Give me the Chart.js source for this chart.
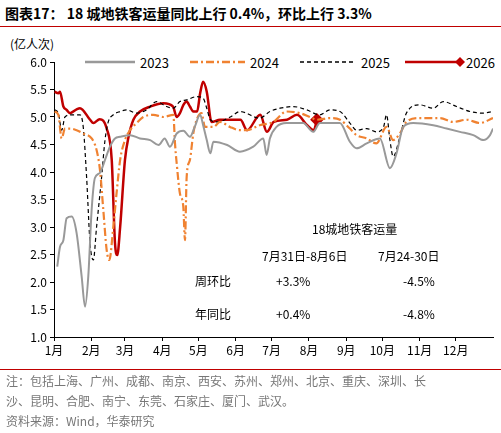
<!DOCTYPE html>
<html>
<head>
<meta charset="utf-8">
<script src="https://cdn.jsdelivr.net/npm/chart.js@4/dist/chart.umd.min.js"></script>
<style>
body { margin: 0; width: 501px; height: 433px; background: #fff; font-family: "Noto Sans CJK SC", "Noto Sans", sans-serif; position: relative; overflow: hidden; }
#wrap { position: absolute; left: 0; top: 0; width: 501px; height: 433px; }
.t { position: absolute; white-space: nowrap; color: #000; }
.note { position: absolute; left: 6px; font-size: 12px; color: #777; white-space: nowrap; }
.lg { position: absolute; top: 53px; font-size: 13px; }
</style>
</head>
<body>
<div class="t" style="left:5px;top:3px;font-size:14px;font-weight:bold;">图表17：&nbsp;18 城地铁客运量同比上行 0.4%，环比上行 3.3%</div>
<div style="position:absolute;left:0;top:26px;width:501px;height:1px;background:#c00000;"></div>
<div class="t" style="left:10px;top:35px;font-size:12px;">(亿人次)</div>

<svg style="position:absolute;left:0;top:0" width="501" height="80">
  <line x1="85" y1="62" x2="135" y2="62" stroke="#999" stroke-width="2.5"/>
  <line x1="190" y1="62" x2="245" y2="62" stroke="#F08231" stroke-width="2.5" stroke-dasharray="8,3,2,3"/>
  <line x1="300" y1="62" x2="355" y2="62" stroke="#000" stroke-width="1.3" stroke-dasharray="4,3"/>
  <line x1="405" y1="62" x2="460" y2="62" stroke="#C00000" stroke-width="2.5"/>
  <polygon points="460,57 465,62 460,67 455,62" fill="#C00000"/>
</svg>
<div class="lg" style="left:140px">2023</div>
<div class="lg" style="left:250px">2024</div>
<div class="lg" style="left:361px">2025</div>
<div class="lg" style="left:466px">2026</div>

<div id="wrap"><canvas id="c" width="501" height="433"></canvas></div>

<div class="t" style="left:312px;top:220px;font-size:12px;">18城地铁客运量</div>
<div class="t" style="left:262px;top:247px;font-size:12px;">7月31日-8月6日</div>
<div class="t" style="left:378px;top:247px;font-size:12px;">7月24-30日</div>
<div class="t" style="left:195px;top:272px;font-size:12px;">周环比</div>
<div class="t" style="left:276px;top:272px;font-size:12px;">+3.3%</div>
<div class="t" style="left:403px;top:272px;font-size:12px;">-4.5%</div>
<div class="t" style="left:195px;top:305px;font-size:12px;">年同比</div>
<div class="t" style="left:276px;top:305px;font-size:12px;">+0.4%</div>
<div class="t" style="left:403px;top:305px;font-size:12px;">-4.8%</div>

<div style="position:absolute;left:0;top:369px;width:501px;height:1px;background:#c00000;"></div>
<div class="note" style="top:372px">注：包括上海、广州、成都、南京、西安、苏州、郑州、北京、重庆、深圳、长</div>
<div class="note" style="top:392px">沙、昆明、合肥、南宁、东莞、石家庄、厦门、武汉。</div>
<div class="note" style="top:412px">资料来源：Wind，华泰研究</div>

<script>
const monthDays = [0, 31, 59, 90, 120, 151, 181, 212, 243, 273, 304, 334];
const monthLabels = ['1月','2月','3月','4月','5月','6月','7月','8月','9月','10月','11月','12月'];

const days2023 = [2.7,5,7.8,10.5,14.7,18.8,23,25.8,28.5,31.3,34,38,42.4,46.5,50.7,55,63.2,71.5,80,87,92,96.4,102,107.6,113,117,121.5,124,127,130,132.5,144,154.6,165.7,174,176.8,179.5,185,193.4,207.2,215.5,221,237.7,246,251.6,260,271,279.3,284.8,290.4,298.7,315.3,326.4,337.5,348.6,357,362.5,365];
const vals2023 = [2.28,2.64,2.76,3.16,3.19,2.89,2.1,1.55,2.1,3.31,3.89,3.98,4.22,4.46,4.61,4.64,4.67,4.61,4.58,4.49,4.61,4.46,4.70,4.75,4.64,4.82,5.04,4.85,4.58,4.34,4.55,4.49,4.37,4.46,4.61,4.31,4.61,4.82,4.89,4.89,4.73,4.89,4.89,4.55,4.43,4.52,4.61,4.07,4.34,4.82,4.89,4.85,4.79,4.73,4.67,4.58,4.67,4.79];

const days2024 = [0.5,3.6,6.4,9.1,13.3,18.8,24.3,31.3,35.4,38.2,41,43.8,46,49.3,52,55,59,63.2,68.7,74.2,82.6,91,99.2,100.6,102,104.7,107.5,108.9,110.3,113,115.8,118.6,122.7,125.5,132.5,138,146.3,154.6,160,171,182.3,193.4,204.5,212.8,218.4,229.5,237.8,246,251.6,260,268,276.5,282,287.6,293,304.3,320.9,332,343,354,365];
const vals2024 = [5.1,5.04,4.61,4.79,4.79,4.76,4.70,4.61,4.4,4.04,3.31,2.58,2.4,3.0,3.61,4.22,4.58,4.76,4.89,5.0,5.04,5.0,5.04,4.52,4.16,3.61,3.37,2.76,3.91,4.22,4.7,4.95,5.07,4.82,4.82,4.91,4.82,4.76,4.76,4.85,4.91,5.1,5.07,5.0,4.95,4.98,4.95,4.79,4.67,4.61,4.52,4.82,4.58,4.70,4.91,4.98,4.98,4.91,4.95,4.89,4.98];

const days2025 = [0.5,3.6,6.4,9.1,14.7,21.6,24.3,27.1,30,32.7,35.4,39.6,42.4,45.1,49.3,55,60.4,68.7,77,85.3,93.6,99.2,104.7,110.3,118.6,124,127,130,135.5,146.6,154.6,171,179.5,188,199,210,221,229.5,237.8,246,251.6,260,268,274,276.5,279.3,282,287.6,293,304.3,315.3,323.6,334.7,345.8,356.9,365];
const vals2025 = [5.13,5.07,4.76,5.0,5.04,5.04,4.82,3.91,2.70,2.4,3.0,3.91,4.58,4.91,5.04,5.1,5.13,5.07,5.13,5.28,5.19,5.16,5.28,5.31,5.37,5.34,5.16,4.95,4.91,5.0,5.1,4.98,5.1,5.16,5.19,5.13,5.04,5.13,5.1,4.89,4.76,4.79,4.73,4.82,5.04,4.58,4.28,4.64,5.07,5.22,5.16,5.28,5.19,5.1,5.07,5.1];

const days2026 = [0.5,3.6,5,7.8,10.5,13.3,18.8,21.6,30,32.7,38,43.8,48,50.7,52.6,55,59,62,66,71.5,80,91,99,102,104.7,107.6,110.3,113,115.8,119,121.5,124,127,131,138,146,155,160.5,171.5,177,182.7,193.7,202,210.5,216,218.6];
const vals2026 = [5.46,5.43,5.46,5.19,5.13,5.07,5.14,5.16,4.95,4.89,4.96,4.79,4.22,2.71,2.49,3.0,4.22,4.64,4.95,5.1,5.19,5.25,5.19,5.0,5.07,5.22,5.28,5.19,5.1,5.1,5.43,5.64,5.46,4.91,4.95,4.95,4.95,4.76,5.04,4.73,4.91,4.95,5.04,4.85,4.76,4.95];

const pts = (d, v) => d.map((x, i) => ({ x: x, y: v[i] }));
const smooth = { cubicInterpolationMode: 'monotone', pointRadius: 0 };

new Chart(document.getElementById('c'), {
    type: 'line',
    data: {
        datasets: [
            { label: '2023', data: pts(days2023, vals2023), borderColor: '#999999', borderWidth: 2, ...smooth },
            { label: '2024', data: pts(days2024, vals2024), borderColor: '#F08231', borderWidth: 2.2, borderDash: [8, 3, 2, 3], ...smooth },
            { label: '2025', data: pts(days2025, vals2025), borderColor: '#000000', borderWidth: 1.2, borderDash: [4, 3], ...smooth },
            {
                label: '2026', data: pts(days2026, vals2026), borderColor: '#C00000', backgroundColor: '#C00000', borderWidth: 2.5,
                cubicInterpolationMode: 'monotone',
                pointStyle: 'rectRot',
                pointRadius: ctx => ctx.dataIndex === days2026.length - 1 ? 5 : 0
            }
        ]
    },
    options: {
        responsive: false,
        animation: false,
        layout: { padding: { left: 14, right: 8, top: 62, bottom: 76 } },
        plugins: { legend: { display: false }, tooltip: { enabled: false } },
        scales: {
            x: {
                type: 'linear', min: 0, max: 365,
                afterBuildTicks: s => { s.ticks = monthDays.map(v => ({ value: v })); },
                afterFit: s => { s.height = 20; },
                ticks: {
                    color: '#000', font: { size: 12, family: 'Noto Sans CJK SC' }, maxRotation: 0, autoSkip: false, padding: 2,
                    callback: (v) => monthLabels[monthDays.indexOf(v)]
                },
                grid: { drawOnChartArea: false, drawTicks: true, tickLength: 4, color: '#000' },
                border: { color: '#000', width: 1 }
            },
            y: {
                min: 1, max: 6,
                afterFit: s => { s.width = 40; },
                ticks: { stepSize: 0.5, color: '#000', font: { size: 12, family: 'Noto Sans CJK SC' }, callback: v => v.toFixed(1) },
                grid: { drawOnChartArea: false, drawTicks: true, tickLength: 4, color: '#000' },
                border: { color: '#000', width: 1 }
            }
        }
    }
});
</script>
</body>
</html>
